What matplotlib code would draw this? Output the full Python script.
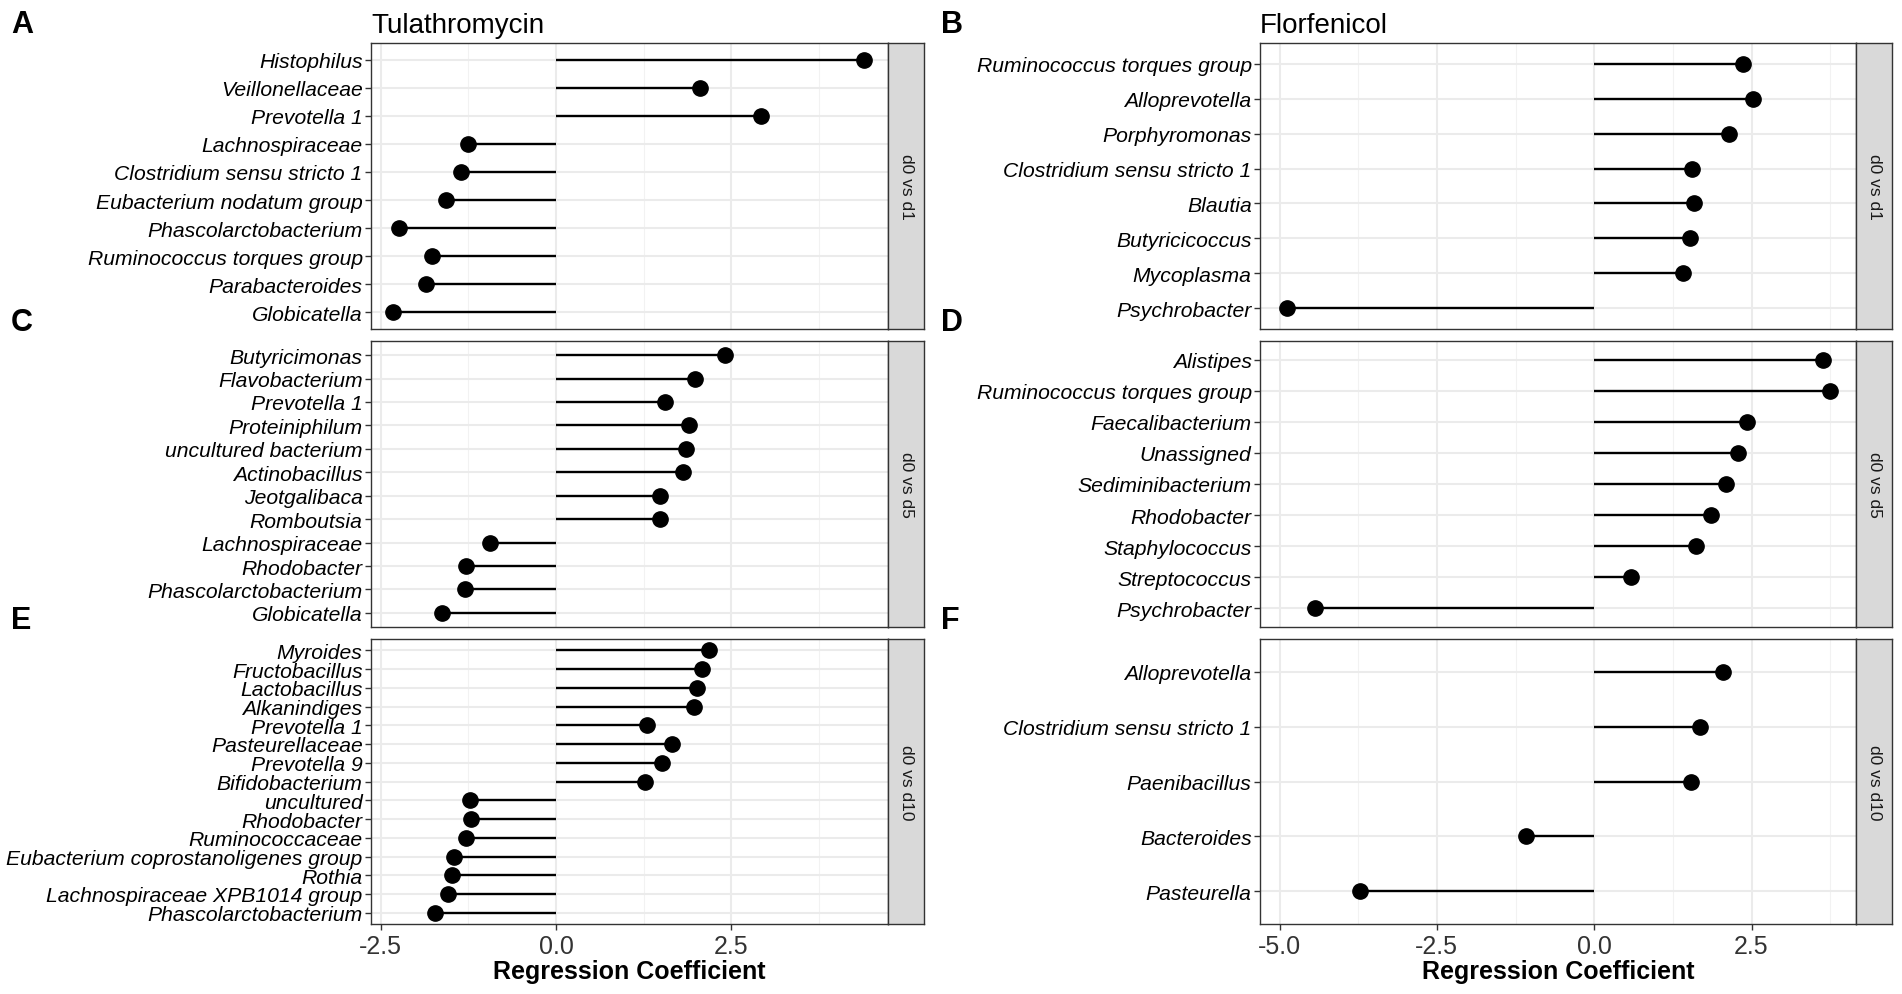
import matplotlib.pyplot as plt

plt.rcParams['font.family'] = ['Liberation Sans', 'DejaVu Sans']

W, H = 1902, 995

# Tulathromycin
a_taxa = ["Histophilus", "Veillonellaceae", "Prevotella 1", "Lachnospiraceae",
          "Clostridium sensu stricto 1", "Eubacterium nodatum group",
          "Phascolarctobacterium", "Ruminococcus torques group",
          "Parabacteroides", "Globicatella"]
a_coef = [4.40, 2.05, 2.93, -1.25, -1.35, -1.57, -2.24, -1.77, -1.85, -2.33]

c_taxa = ["Butyricimonas", "Flavobacterium", "Prevotella 1", "Proteiniphilum",
          "uncultured bacterium", "Actinobacillus", "Jeotgalibaca", "Romboutsia",
          "Lachnospiraceae", "Rhodobacter", "Phascolarctobacterium", "Globicatella"]
c_coef = [2.42, 1.98, 1.55, 1.90, 1.85, 1.81, 1.49, 1.48, -0.94, -1.28, -1.30, -1.62]

e_taxa = ["Myroides", "Fructobacillus", "Lactobacillus", "Alkanindiges",
          "Prevotella 1", "Pasteurellaceae", "Prevotella 9", "Bifidobacterium",
          "uncultured", "Rhodobacter", "Ruminococcaceae",
          "Eubacterium coprostanoligenes group", "Rothia",
          "Lachnospiraceae XPB1014 group", "Phascolarctobacterium"]
e_coef = [2.18, 2.08, 2.02, 1.97, 1.30, 1.66, 1.51, 1.27,
          -1.23, -1.21, -1.29, -1.46, -1.49, -1.54, -1.72]

# Florfenicol
b_taxa = ["Ruminococcus torques group", "Alloprevotella", "Porphyromonas",
          "Clostridium sensu stricto 1", "Blautia", "Butyricicoccus",
          "Mycoplasma", "Psychrobacter"]
b_coef = [2.36, 2.53, 2.15, 1.55, 1.58, 1.53, 1.41, -4.88]

d_taxa = ["Alistipes", "Ruminococcus torques group", "Faecalibacterium",
          "Unassigned", "Sediminibacterium", "Rhodobacter", "Staphylococcus",
          "Streptococcus", "Psychrobacter"]
d_coef = [3.64, 3.74, 2.43, 2.28, 2.10, 1.85, 1.61, 0.58, -4.44]

f_taxa = ["Alloprevotella", "Clostridium sensu stricto 1", "Paenibacillus",
          "Bacteroides", "Pasteurella"]
f_coef = [2.04, 1.68, 1.54, -1.09, -3.72]

strips = ["d0 vs d1", "d0 vs d5", "d0 vs d10"]
letters = ["A", "C", "E", "B", "D", "F"]

fig = plt.figure(figsize=(W / 100, H / 100), dpi=100)


def px_axes(x0, y0, x1, y1):
    return fig.add_axes([x0 / W, 1 - y1 / H, (x1 - x0) / W, (y1 - y0) / H])


rows = [(44, 330), (342, 628), (640, 925)]
cols = [
    dict(x0=371, x1=888, s1=924, xlim=(-2.64, 4.74),
         major=[-2.5, 0.0, 2.5], minor=[-1.25, 1.25, 3.75],
         data=[(a_taxa, a_coef), (c_taxa, c_coef), (e_taxa, e_coef)],
         title="Tulathromycin", letter_x=11),
    dict(x0=1260, x1=1856, s1=1892, xlim=(-5.31, 4.16),
         major=[-5.0, -2.5, 0.0, 2.5], minor=[-3.75, -1.25, 1.25, 3.75],
         data=[(b_taxa, b_coef), (d_taxa, d_coef), (f_taxa, f_coef)],
         title="Florfenicol", letter_x=941),
]

border = "#333333"
k = 0
for ci, col in enumerate(cols):
    for ri, (y0, y1) in enumerate(rows):
        taxa, coef = col["data"][ri]
        n = len(taxa)
        ypos = list(range(n))
        ax = px_axes(col["x0"], y0, col["x1"], y1)
        ax.set_axisbelow(True)
        ax.hlines(ypos, 0, coef, color="black", lw=1.7, zorder=3)
        ax.plot(coef, ypos, "o", color="black", ms=11, zorder=4)
        ax.set_xlim(*col["xlim"])
        ax.set_ylim(n - 0.4, -0.6)
        ax.set_yticks(ypos)
        ax.set_yticklabels(taxa, fontsize=15.2, style="italic", color="black")
        ax.set_xticks(col["major"])
        ax.set_xticks(col["minor"], minor=True)
        ax.grid(which="major", color="#EBEBEB", lw=1.5)
        ax.grid(which="minor", axis="x", color="#F2F2F2", lw=0.8)
        ax.tick_params(axis="y", length=4, width=1, color=border, pad=2)
        if ri == 2:
            ax.set_xticklabels([f"{v:.1f}" for v in col["major"]])
            ax.tick_params(axis="x", which="major", length=4, width=1,
                           color=border, labelsize=18, labelcolor="#333333", pad=3)
            ax.tick_params(axis="x", which="minor", length=0)
            ax.set_xlabel("Regression Coefficient", fontsize=18,
                          fontweight="bold", labelpad=1)
        else:
            ax.tick_params(axis="x", which="both", length=0, labelbottom=False)
        for sp in ax.spines.values():
            sp.set_color(border)
            sp.set_linewidth(1.0)
        if ri == 0:
            ax.set_title(col["title"], loc="left", fontsize=20, pad=8)

        sax = px_axes(col["x1"], y0, col["s1"], y1)
        sax.set_facecolor("#D9D9D9")
        sax.set_xticks([])
        sax.set_yticks([])
        for sp in sax.spines.values():
            sp.set_color(border)
            sp.set_linewidth(1.0)
        sax.text(0.5, 0.5, strips[ri], rotation=270, ha="center", va="center",
                 fontsize=12.5, color="#1A1A1A", transform=sax.transAxes)

        fig.text(col["letter_x"] / W, 1 - (y0 - 19) / H, letters[k],
                 fontsize=22, fontweight="bold", ha="left", va="center")
        k += 1

fig.savefig("out.png", dpi=100)
